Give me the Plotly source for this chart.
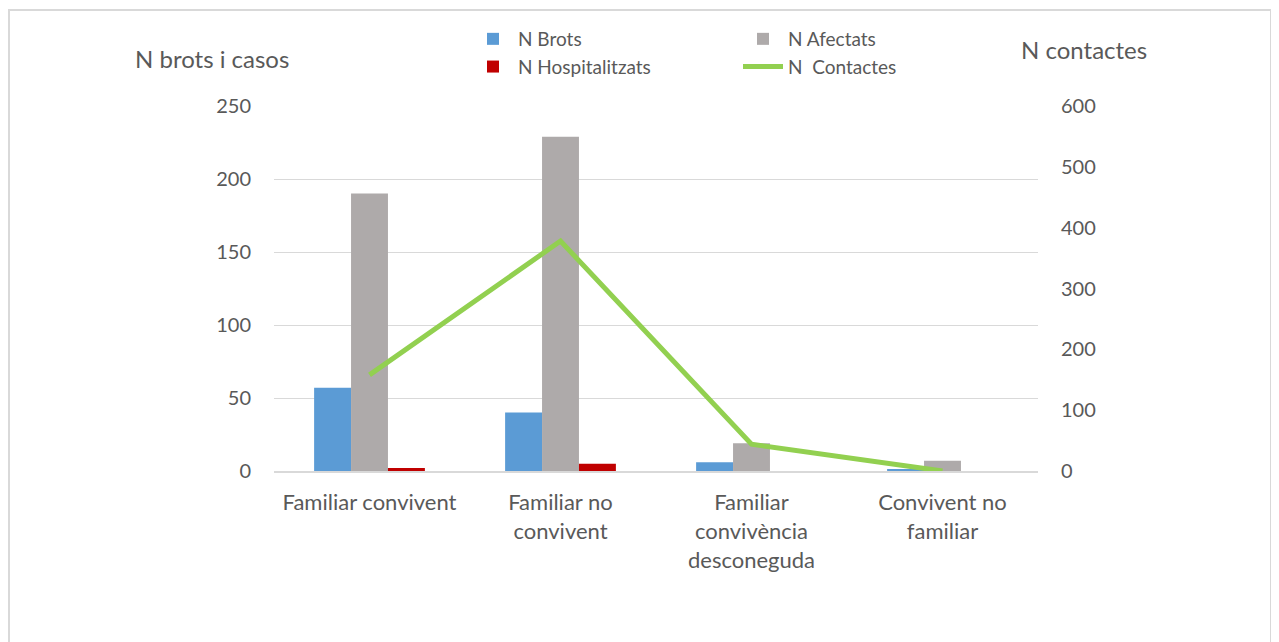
import plotly.graph_objects as go

categories = ["Familiar convivent", "Familiar no<br>convivent",
              "Familiar<br>convivència<br>desconeguda", "Convivent no<br>familiar"]
n_brots = [57, 40, 6, 1]
n_afectats = [190, 229, 19, 7]
n_hospitalitzats = [2, 5, 0, 0]
n_contactes = [158, 378, 44, 0]

FONT = "Lato"
TXT = "#595959"
GRID = "#D9D9D9"

fig = go.Figure()

fig.add_trace(go.Bar(x=categories, y=n_brots, name="N Brots",
                     marker=dict(color="#5B9BD5", line=dict(width=0))))
fig.add_trace(go.Bar(x=categories, y=n_afectats, name="N Afectats",
                     marker=dict(color="#AEAAAA", line=dict(width=0))))
fig.add_trace(go.Bar(x=categories, y=n_hospitalitzats, name="N Hospitalitzats",
                     marker=dict(color="#C00000", line=dict(width=0))))
fig.add_trace(go.Scatter(x=categories, y=n_contactes, name="N  Contactes",
                         mode="lines", yaxis="y2",
                         line=dict(color="#92D050", width=5)))

# page body has an 8px margin, so the figure starts at (8, 8) on screen
OFF = 8
W, H = 1279, 642
plot_left, plot_right, plot_top, plot_bottom = 274, 1038, 106, 471
L = plot_left - OFF
T = plot_top - OFF
R = W - L - (plot_right - plot_left)
B = H - T - (plot_bottom - plot_top)
pw, ph = plot_right - plot_left, plot_bottom - plot_top


def px(x):
    return (x - plot_left) / pw


def py(y):
    return (plot_bottom - y) / ph


fig.update_layout(
    width=W, height=H,
    margin=dict(l=L, r=R, t=T, b=B),
    paper_bgcolor="white", plot_bgcolor="white",
    font=dict(family=FONT, size=20, color=TXT),
    barmode="group", bargap=0.42, bargroupgap=0,
    showlegend=True,
    legend=dict(orientation="h", x=px(468), xanchor="left",
                y=py(20), yanchor="top",
                entrywidth=215, entrywidthmode="pixels",
                font=dict(family=FONT, size=19, color=TXT),
                tracegroupgap=0, itemwidth=40,
                bgcolor="rgba(0,0,0,0)"),
    xaxis=dict(showgrid=False, showline=True, linecolor=GRID, linewidth=2,
               ticks="", tickfont=dict(size=22), ticklabelstandoff=11),
    yaxis=dict(range=[0, 250], dtick=50, showgrid=True, gridcolor=GRID,
               gridwidth=1, zeroline=False, showline=False, ticks="",
               tickfont=dict(size=20), ticklabelstandoff=22),
    yaxis2=dict(range=[0, 600], dtick=100, overlaying="y", side="right",
                showgrid=False, zeroline=False, showline=False, ticks="",
                tickfont=dict(size=20), ticklabelstandoff=22),
)

# axis titles sit horizontally above the axes
fig.add_annotation(text="N brots i casos", xref="paper", yref="paper",
                   x=px(133), xanchor="left", y=py(58), yanchor="middle",
                   showarrow=False, font=dict(size=24, color=TXT))
fig.add_annotation(text="N contactes", xref="paper", yref="paper",
                   x=px(1019), xanchor="left", y=py(49), yanchor="middle",
                   showarrow=False, font=dict(size=24, color=TXT))

# outer chart frame
fig.add_shape(type="rect", xref="paper", yref="paper",
              x0=px(9), x1=px(1271), y0=py(720), y1=py(10),
              line=dict(color=GRID, width=2), layer="below")

fig.write_html("out.html")
